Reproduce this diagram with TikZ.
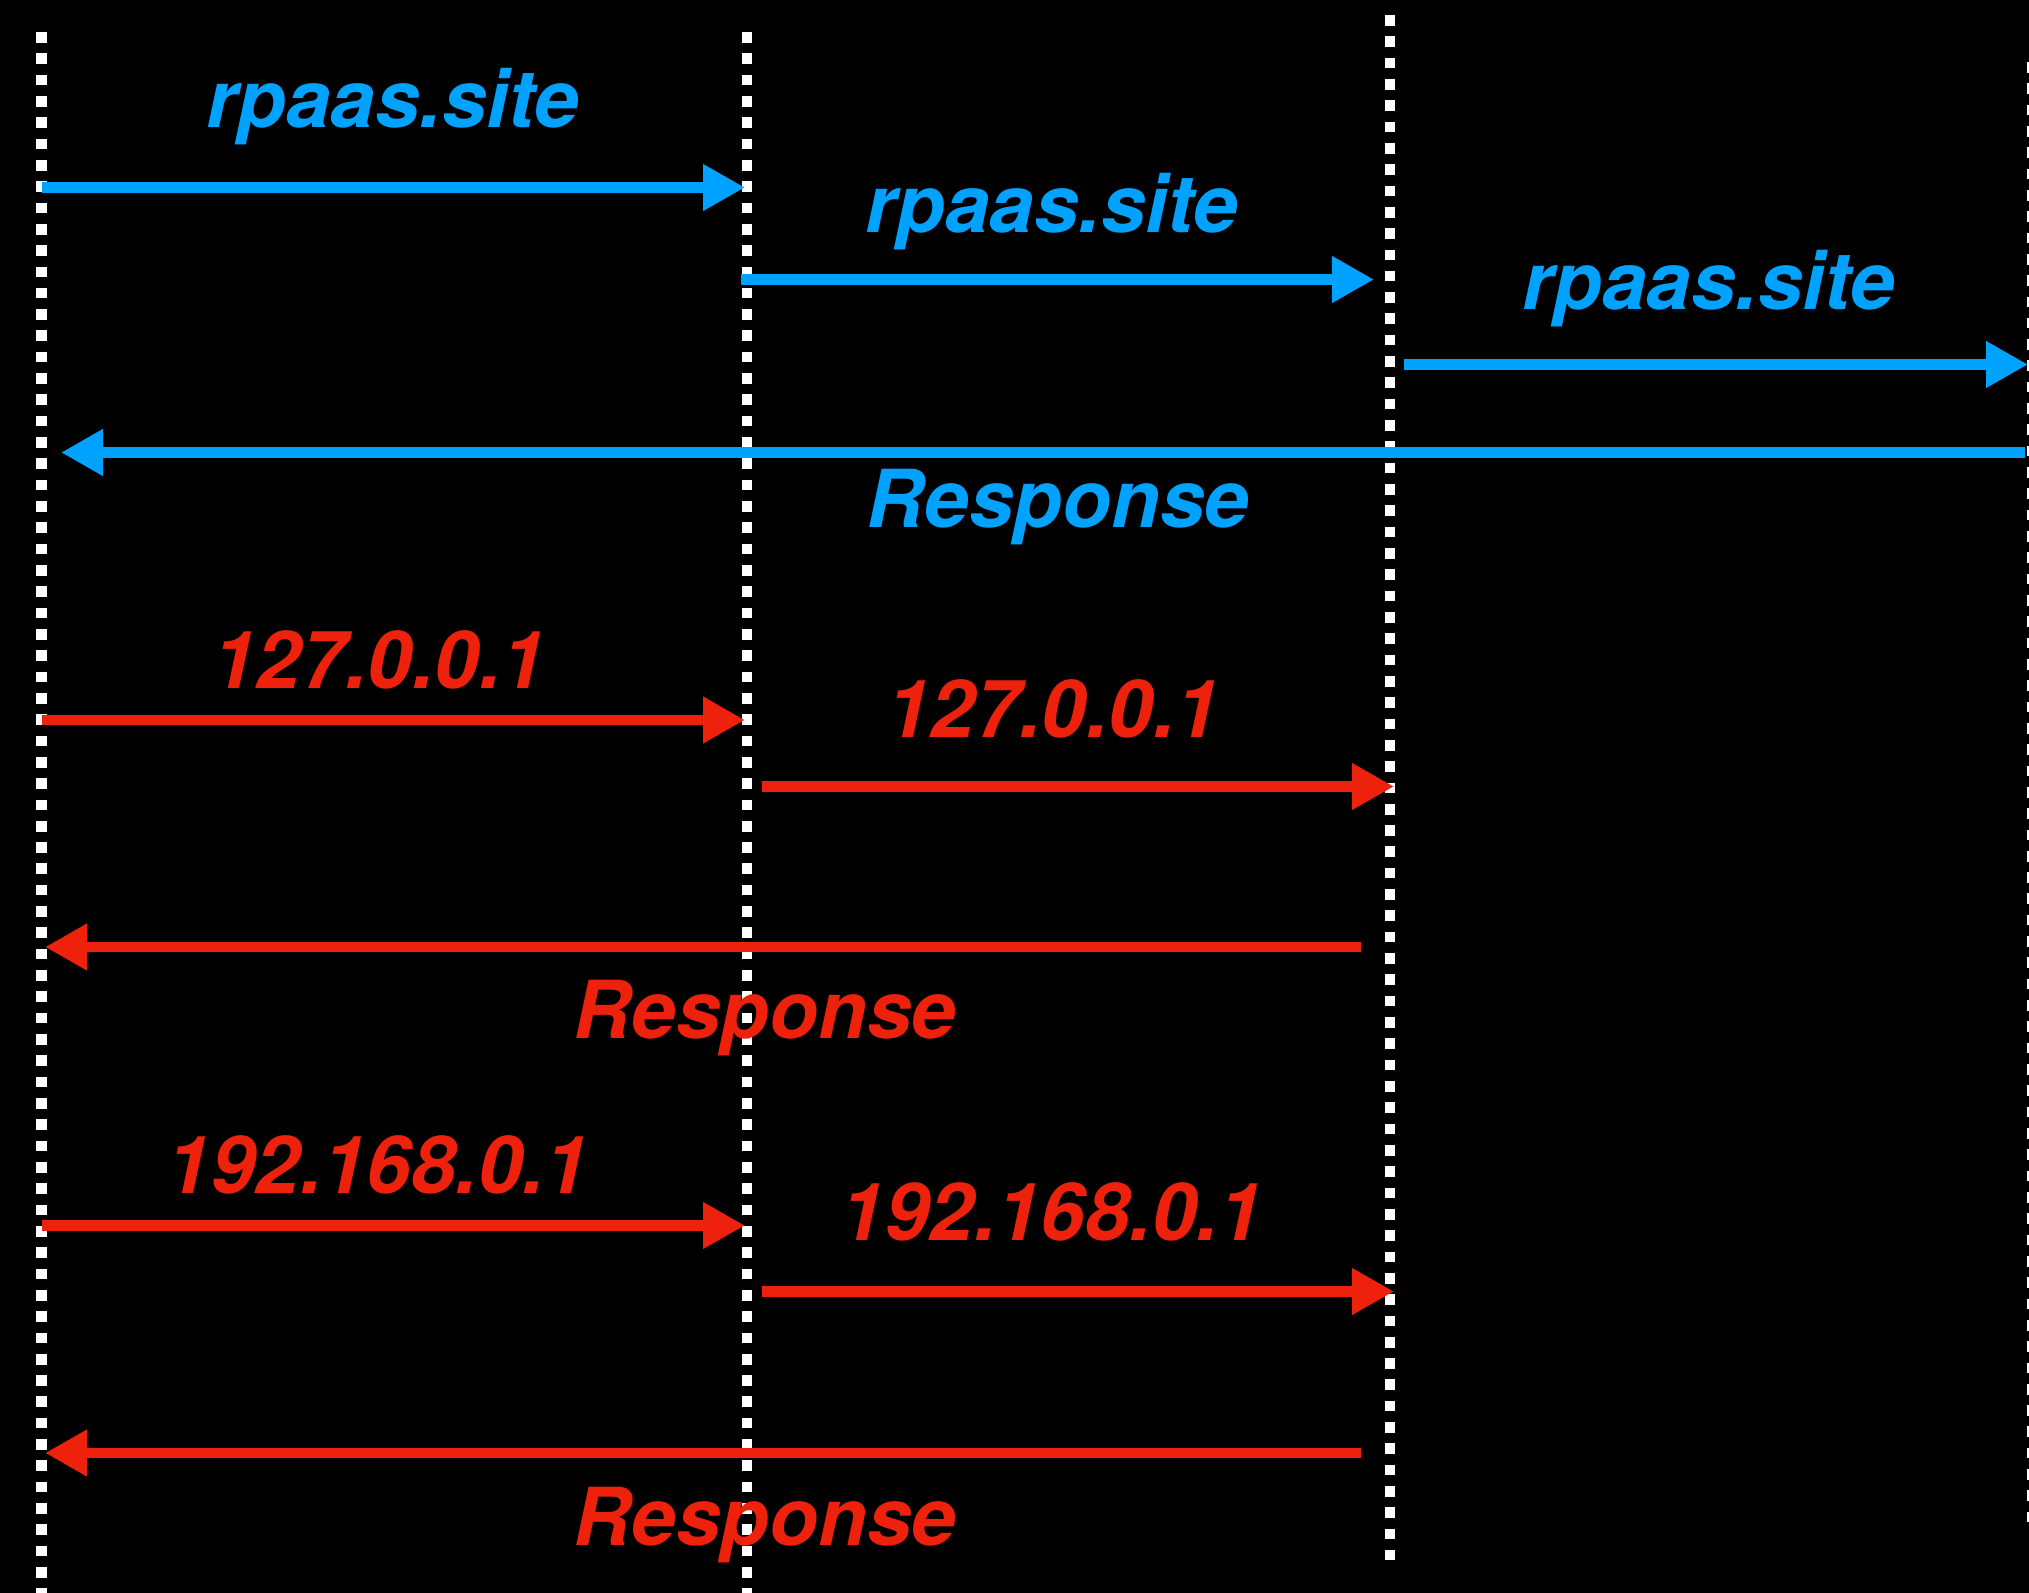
\documentclass[tikz,border=0pt]{standalone}
\usepackage{fontspec}
\setmainfont{TeX Gyre Heros}
\usetikzlibrary{arrows.meta}
\definecolor{kblue}{RGB}{0,162,255}
\definecolor{kred}{RGB}{238,34,12}
\tikzset{
  lifeline/.style={white, line width=5.33pt, dash pattern=on 5.33pt off 5.33pt},
  msg/.style={line width=5.2pt, -{Triangle[length=21pt,width=22pt]}},
  bluemsg/.style={msg, kblue},
  redmsg/.style={msg, kred},
  lbl/.style={anchor=base, inner sep=0pt, font=\fontsize{40}{44}\selectfont\bfseries\itshape},
  bluelbl/.style={lbl, text=kblue},
  redlbl/.style={lbl, text=kred}
}
\begin{document}
\begin{tikzpicture}[x=0.5pt, y=-0.5pt]
\clip (0,0) rectangle (2029,1593);
\fill[black] (0,0) rectangle (2029,1593);
% lifelines
\coordinate (l1t) at (41.5,32);   \coordinate (l1b) at (41.5,1600);
\coordinate (l2t) at (747,32);    \coordinate (l2b) at (747,1600);
\coordinate (l3t) at (1390,15);   \coordinate (l3b) at (1390,1560);
\coordinate (l4t) at (2032.5,62); \coordinate (l4b) at (2032.5,1524);
\draw[lifeline] (l1t) -- (l1b);
\draw[lifeline] (l2t) -- (l2b);
\draw[lifeline] (l3t) -- (l3b);
\draw[lifeline] (l4t) -- (l4b);
% blue requests
\coordinate (a1s) at (42,187.5);   \coordinate (a1e) at (745,187.5);
\coordinate (a2s) at (741,279.5);  \coordinate (a2e) at (1374,279.5);
\coordinate (a3s) at (1404,364.5); \coordinate (a3e) at (2028,364.5);
\coordinate (b4s) at (2025,452.5); \coordinate (b4e) at (61,452.5);
\draw[bluemsg] (a1s) -- (a1e);
\draw[bluemsg] (a2s) -- (a2e);
\draw[bluemsg] (a3s) -- (a3e);
\draw[bluemsg] (b4s) -- (b4e);
\node[bluelbl] (t1) at (393,128) {rpaas.site};
\node[bluelbl] (t2) at (1052,233) {rpaas.site};
\node[bluelbl] (t3) at (1709,310) {rpaas.site};
\node[bluelbl] (t4) at (1058,528) {Response};
% red 127.0.0.1
\coordinate (r1s) at (42,720);    \coordinate (r1e) at (745,720);
\coordinate (r2s) at (762,786.5); \coordinate (r2e) at (1394,786.5);
\coordinate (r3s) at (1361,947);  \coordinate (r3e) at (45,947);
\draw[redmsg] (r1s) -- (r1e);
\draw[redmsg] (r2s) -- (r2e);
\draw[redmsg] (r3s) -- (r3e);
\node[redlbl] (u1) at (379,688) {127.0.0.1};
\node[redlbl] (u2) at (1053,737) {127.0.0.1};
\node[redlbl] (u3) at (765,1038) {Response};
% red 192.168.0.1
\coordinate (s1s) at (42,1225.5);  \coordinate (s1e) at (745,1225.5);
\coordinate (s2s) at (762,1291.5); \coordinate (s2e) at (1394,1291.5);
\coordinate (s3s) at (1361,1453);  \coordinate (s3e) at (45,1453);
\draw[redmsg] (s1s) -- (s1e);
\draw[redmsg] (s2s) -- (s2e);
\draw[redmsg] (s3s) -- (s3e);
\node[redlbl] (v1) at (378,1193) {192.168.0.1};
\node[redlbl] (v2) at (1052,1240) {192.168.0.1};
\node[redlbl] (v3) at (765,1545) {Response};
\end{tikzpicture}
\end{document}
